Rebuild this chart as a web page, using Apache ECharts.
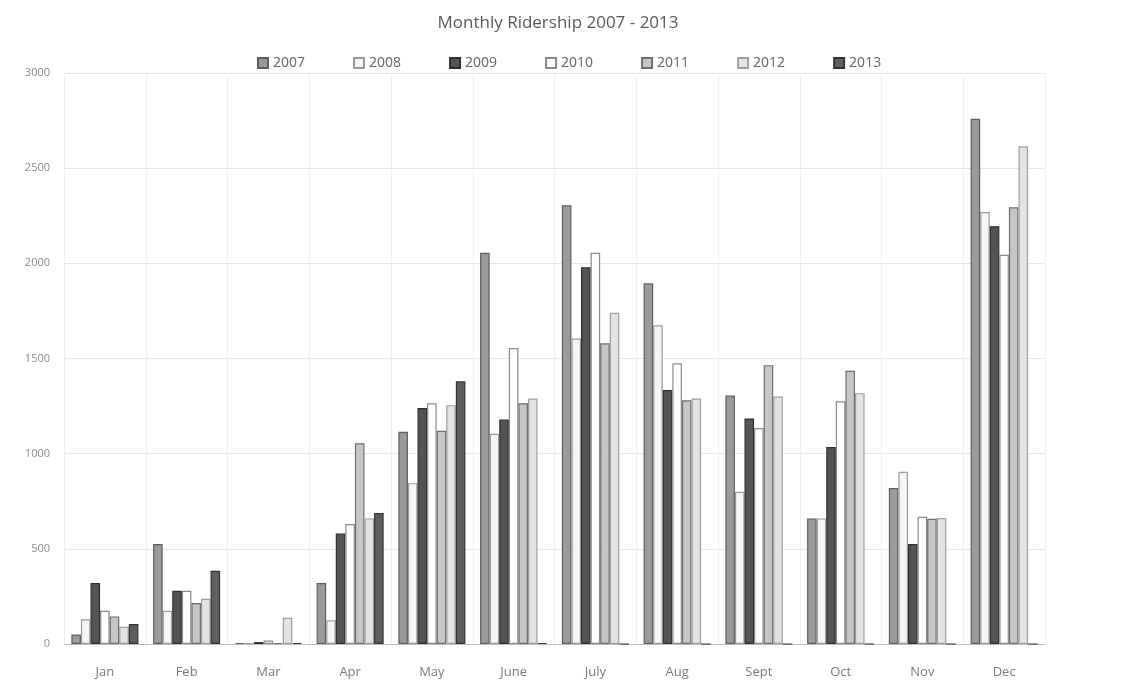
<!DOCTYPE html>
<html>
<head>
<meta charset="utf-8">
<script src="https://cdn.jsdelivr.net/npm/echarts@6/dist/echarts.min.js"></script>
<style>html,body{margin:0;padding:0;background:#fff;}#c{width:1130px;height:685px;}</style>
</head>
<body>
<div id="c"></div>
<script>
const months = ['Jan','Feb','Mar','Apr','May','June','July','Aug','Sept','Oct','Nov','Dec'];
const years = ['2007','2008','2009','2010','2011','2012','2013'];
const y2007 = [50, 525, 5, 320, 1115, 2055, 2305, 1895, 1305, 660, 820, 2760];
const y2008 = [130, 175, 5, 125, 845, 1105, 1605, 1675, 800, 660, 905, 2270];
const y2009 = [320, 280, 10, 580, 1240, 1180, 1980, 1335, 1185, 1035, 525, 2195];
const y2010 = [175, 280, 18, 630, 1265, 1555, 2055, 1475, 1135, 1275, 668, 2045];
const y2011 = [145, 215, 5, 1055, 1120, 1265, 1580, 1280, 1465, 1435, 658, 2295];
const y2012 = [90, 238, 138, 660, 1255, 1290, 1740, 1290, 1300, 1318, 662, 2615];
const y2013 = [105, 385, 5, 688, 1380, 5, 0, 0, 0, 0, 0, 0];
const yTicks = [0, 500, 1000, 1500, 2000, 2500, 3000];

const seriesData = [y2007, y2008, y2009, y2010, y2011, y2012, y2013];
const fills = ['#9a9a9a', '#f5f5f5', '#545454', '#ffffff', '#c6c6c6', '#e3e3e3', '#5e5e5e'];
const borders = ['#5e5e5e', '#9a9a9a', '#2e2e2e', '#8a8a8a', '#6e6e6e', '#9e9e9e', '#333333'];

const chart = echarts.init(document.getElementById('c'));
chart.setOption({
  backgroundColor: '#ffffff',
  animation: false,
  title: {
    text: 'Monthly Ridership 2007 - 2013',
    left: 553, top: 10, textAlign: 'center',
    textStyle: {fontFamily: 'Open Sans', fontWeight: 'normal', fontSize: 17, color: '#5a5a5a'}
  },
  legend: {
    data: years, top: 51, left: 252, itemGap: 48, itemWidth: 10, itemHeight: 10,
    icon: 'rect',
    textStyle: {fontFamily: 'Open Sans', fontSize: 14, color: '#666'}
  },
  grid: {left: 64, right: 85, top: 73, bottom: 41},
  xAxis: {
    type: 'category', data: months,
    axisLine: {lineStyle: {color: '#bbb'}},
    axisTick: {show: false},
    axisLabel: {margin: 22, fontFamily: 'Open Sans', fontSize: 13, color: '#7a7a7a'},
    splitLine: {show: true, lineStyle: {color: '#eeeeee'}}
  },
  yAxis: {
    type: 'value', min: yTicks[0], max: yTicks[yTicks.length - 1], interval: 500,
    axisLine: {show: false}, axisTick: {show: false},
    axisLabel: {margin: 14, fontFamily: 'Open Sans', fontSize: 11, color: '#8a8a8a', formatter: v => String(v)},
    splitLine: {lineStyle: {color: '#e6e6e6'}}
  },
  series: years.map((y, i) => ({
    name: y, type: 'bar', data: seriesData[i],
    barGap: '0%', barCategoryGap: '18%',
    itemStyle: {color: fills[i], borderColor: borders[i], borderWidth: 1.2}
  }))
});
</script>
</body>
</html>
